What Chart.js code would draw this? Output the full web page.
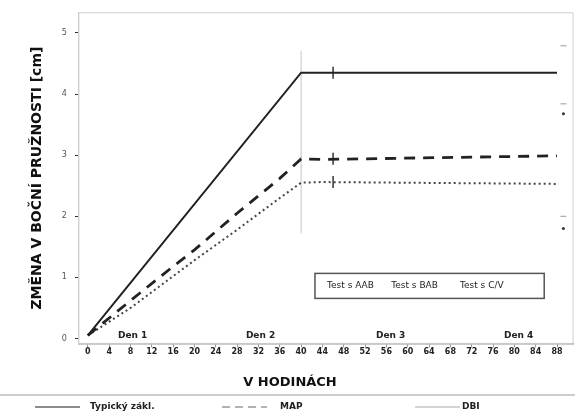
<!DOCTYPE html>
<html>
<head>
<meta charset="utf-8">
<script src="https://cdn.jsdelivr.net/npm/chart.js@4.4.1/dist/chart.umd.min.js"></script>
<style>
  body { margin: 0; background: #fff; }
  #wrap { width: 581px; height: 416px; position: relative; }
</style>
</head>
<body>
<div id="wrap"><canvas id="chart"></canvas></div>
<script>
// ── Data ─────────────────────────────────────────────
const hours = ['0','4','8','12','16','20','24','28','32','36','40','44','48','52','56','60','64','68','72','76','80','84','88'];
const yTicks = [0, 1, 2, 3, 4, 5];
const days = ['Den 1', 'Den 2', 'Den 3', 'Den 4'];
const dayCenters = [2.1, 8.1, 14.2, 20.2];

// values read per hour index (null = no point)
const solid  = [0.05, null, null, null, null, null, null, null, null, null, 4.35, null, null, null, null, null, null, null, null, null, null, null, 4.35];
const dashed = [0.05, null, 0.62, null, 1.18, 1.45, null, 2.05, null, 2.62, 2.94, 2.93, null, null, null, null, null, null, null, null, null, null, 2.99];
const dotted = [0.05, null, 0.5, null, 1.02, 1.28, null, 1.78, null, 2.3, 2.55, 2.56, null, null, null, null, null, null, null, null, null, null, 2.53];
const errLow = 1.72, errHigh = 4.7;
// small marks crossing the lines just after the peak
const crossX = 11.5;
const crossY = [4.35, 2.94, 2.56];
// caps at the right edge
const capX = 22.3;
const capY = [4.79, 3.84, 2.0];
const dotY = [3.68, 1.8];

const seriesNames = ['Typický zákl.', 'MAP', 'DBI'];
const boxLabels = ['Test s AAB', 'Test s BAB', 'Test s C/V'];
const xTitle = 'V HODINÁCH';

const toPts = arr => arr.map((v, i) => v === null ? null : { x: i, y: v }).filter(p => p);

const extras = {
  id: 'extras',
  beforeDatasetsDraw(chart) {
    const { ctx, chartArea: a } = chart;
    ctx.save();
    ctx.strokeStyle = '#cfcfcf';
    ctx.lineWidth = 1;
    ctx.strokeRect(a.left, a.top, a.right - a.left, a.bottom - a.top);
    ctx.restore();
  },
  afterDatasetsDraw(chart) {
    const { ctx, chartArea: a, scales: { x } } = chart;
    ctx.save();
    // day labels inside the plot, just above the x axis
    ctx.font = 'bold 9px "DejaVu Sans"';
    ctx.fillStyle = '#222';
    ctx.textAlign = 'center';
    ctx.textBaseline = 'middle';
    days.forEach((d, i) => ctx.fillText(d, x.getPixelForValue(dayCenters[i]), a.bottom - 8));

    // boxed legend inside the plot
    const bx = x.getPixelForValue(10.65), bw = x.getPixelForValue(21.4) - bx;
    const by = a.bottom - 70, bh = 25;
    ctx.fillStyle = '#fff';
    ctx.fillRect(bx, by, bw, bh);
    ctx.strokeStyle = '#555';
    ctx.lineWidth = 1.5;
    ctx.strokeRect(bx, by, bw, bh);
    ctx.fillStyle = '#222';
    ctx.font = '9px "DejaVu Sans"';
    ctx.textAlign = 'left';
    [0.14, 0.42, 0.72].forEach((f, i) => ctx.fillText(boxLabels[i], bx + bw * f - 20, by + bh / 2));

    // x axis title, centred on the page
    const H = chart.height;
    ctx.textAlign = 'center';
    ctx.font = 'bold 13px "DejaVu Sans"';
    ctx.fillStyle = '#111';
    ctx.fillText(xTitle, 290, H - 33);

    // separator line and bottom legend
    ctx.textAlign = 'left';
    ctx.strokeStyle = '#bbb';
    ctx.lineWidth = 1.5;
    ctx.setLineDash([]);
    ctx.beginPath(); ctx.moveTo(0, H - 21); ctx.lineTo(chart.width - 6, H - 21); ctx.stroke();

    const styles = [
      { dash: [], w: 1.5, c: '#666' },
      { dash: [8, 5], w: 1.5, c: '#999' },
      { dash: [], w: 1, c: '#aaa' }
    ];
    const lx = [35, 222, 415], tx = [90, 280, 462];
    const ly = H - 9;
    ctx.font = 'bold 9px "DejaVu Sans"';
    ctx.fillStyle = '#222';
    styles.forEach((s, i) => {
      ctx.strokeStyle = s.c;
      ctx.lineWidth = s.w;
      ctx.setLineDash(s.dash);
      ctx.beginPath(); ctx.moveTo(lx[i], ly); ctx.lineTo(lx[i] + 45, ly); ctx.stroke();
      ctx.fillText(seriesNames[i], tx[i], ly);
    });
    ctx.restore();
  }
};

new Chart(document.getElementById('chart'), {
  type: 'line',
  data: {
    datasets: [
      { label: seriesNames[0], data: toPts(solid), borderColor: '#222', borderWidth: 2, pointRadius: 0, tension: 0 },
      { label: seriesNames[1], data: toPts(dashed), borderColor: '#222', borderWidth: 2.8, borderDash: [11, 8], pointRadius: 0, tension: 0 },
      { label: seriesNames[2], data: toPts(dotted), borderColor: '#444', borderWidth: 2, borderDash: [2, 3], pointRadius: 0, tension: 0 },
      { label: 'err', data: [{ x: 10, y: errLow }, { x: 10, y: errHigh }], borderColor: '#c4c4c4', borderWidth: 1, pointRadius: 0 },
      { label: 'cross', type: 'scatter', data: crossY.map(v => ({ x: crossX, y: v })), pointStyle: 'line', rotation: 90, radius: 6, borderColor: '#333', borderWidth: 1.5 },
      { label: 'caps', type: 'scatter', data: capY.map(v => ({ x: capX, y: v })), pointStyle: 'line', radius: 3, borderColor: '#999', borderWidth: 1 },
      { label: 'dots', type: 'scatter', data: dotY.map(v => ({ x: capX, y: v })), pointStyle: 'circle', radius: 1.5, backgroundColor: '#333', borderColor: '#333', borderWidth: 0 }
    ]
  },
  options: {
    responsive: true,
    maintainAspectRatio: false,
    animation: false,
    layout: { padding: { left: 29, right: 8, top: 12, bottom: 59 } },
    plugins: { legend: { display: false }, tooltip: { enabled: false } },
    scales: {
      x: {
        type: 'linear',
        min: -0.42,
        max: 22.75,
        afterBuildTicks: s => { s.ticks = hours.map((h, i) => ({ value: i })); },
        ticks: {
          autoSkip: false, maxRotation: 0, padding: 0,
          color: '#222', font: { family: 'DejaVu Sans', size: 8, weight: 'bold' },
          callback: v => hours[v]
        },
        grid: { drawOnChartArea: false, tickLength: 4, color: '#999' },
        border: { color: '#999', width: 1.5 }
      },
      y: {
        min: -0.08,
        max: 5.33,
        afterBuildTicks: s => { s.ticks = yTicks.map(v => ({ value: v })); },
        ticks: { color: '#555', font: { family: 'DejaVu Sans', size: 8 }, padding: 8 },
        grid: { drawOnChartArea: false, tickLength: 4, color: '#333' },
        border: { color: '#cfcfcf' },
        title: { display: true, text: 'ZMĚNA V BOČNÍ PRUŽNOSTI [cm]', color: '#111', font: { family: 'DejaVu Sans', size: 14, weight: 'bold' }, padding: { top: 0, bottom: 8 } }
      }
    }
  },
  plugins: [extras]
});
</script>
</body>
</html>
